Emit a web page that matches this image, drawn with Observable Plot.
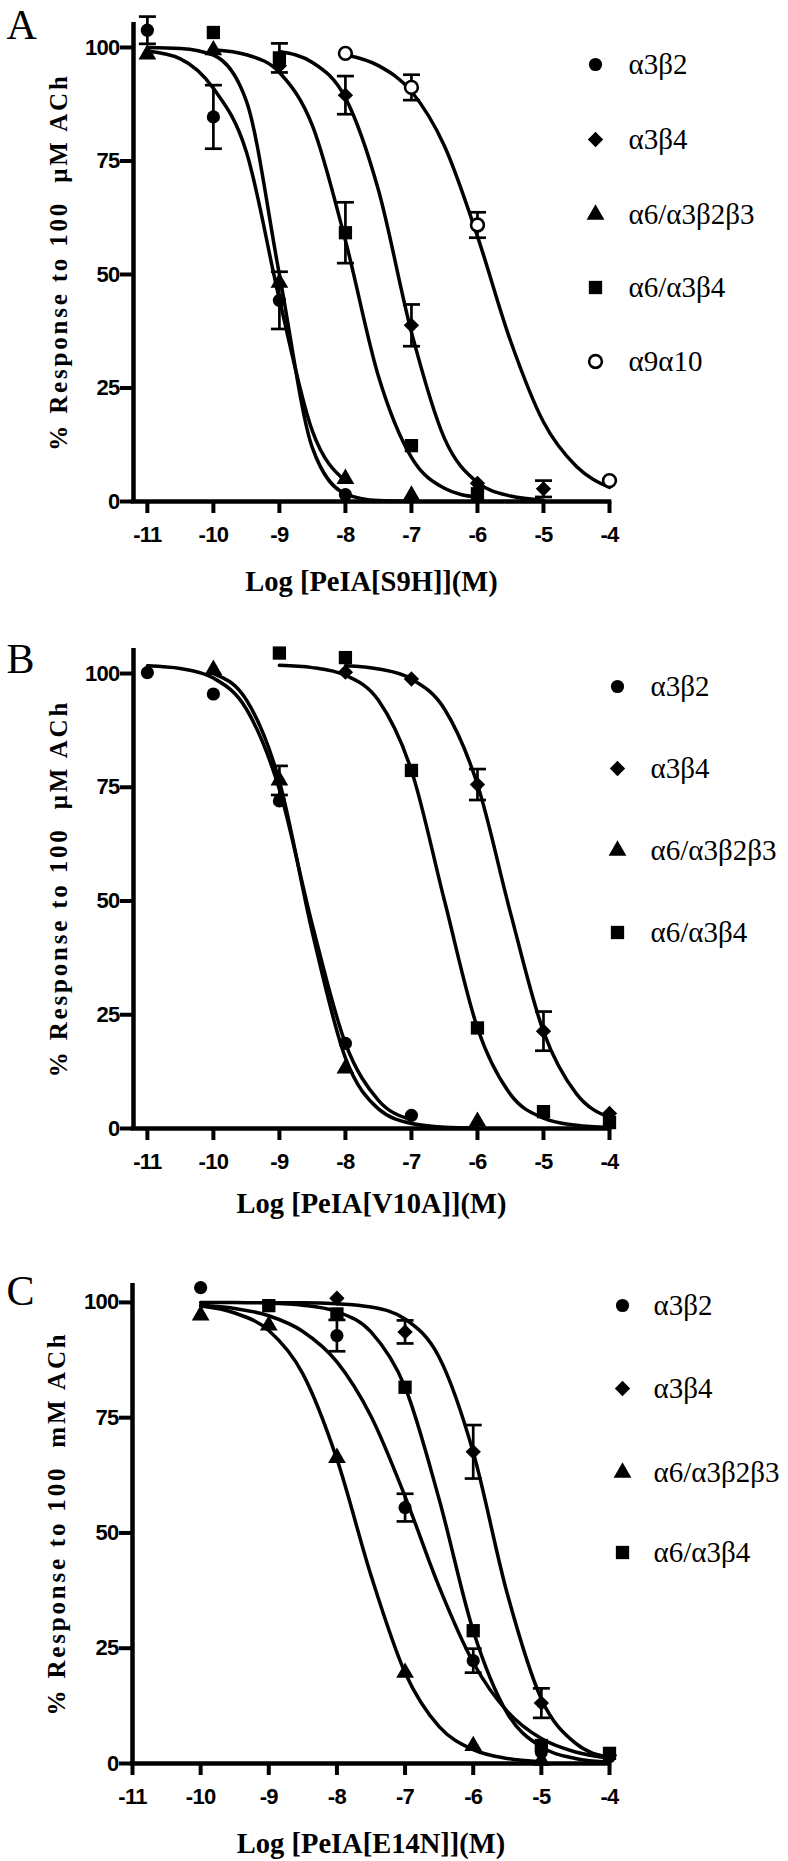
<!DOCTYPE html>
<html><head><meta charset="utf-8">
<script src="https://cdn.jsdelivr.net/npm/d3@7"></script>
<script src="https://cdn.jsdelivr.net/npm/@observablehq/plot@0.6"></script>
<style>
body{margin:0;background:#fff;}
#fig{position:relative;width:788px;height:1861px;background:#fff;}
#fig > div{position:absolute;left:0;}
</style></head><body><div id="fig"></div>
<script>
// ---------- labels & ticks ----------
const seriesLabels = ["α3β2", "α3β4", "α6/α3β2β3", "α6/α3β4", "α9α10"];
const xTicks = [-11, -10, -9, -8, -7, -6, -5, -4];
const yTicks = [0, 25, 50, 75, 100];
const panelLetters = ["A", "B", "C"];
const xLabels = ["Log [PeIA[S9H]](M)", "Log [PeIA[V10A]](M)", "Log [PeIA[E14N]](M)"];
const yLabels = ["% Response to 100  μM ACh", "% Response to 100  μM ACh", "% Response to 100  mM ACh"];

// ---------- Panel A : points [log M, % response, SEM] ----------
const A_a3b2 = [[-11,103.8,3],[-10,84.7,7],[-9,44.3,6.3],[-8,1.5,0]];
const A_a3b4 = [[-9,96,0],[-8,89.5,4.2],[-7,38.8,4.6],[-6,4,0],[-5,2.8,1.8]];
const A_a6a3b2b3 = [[-11,98.5,0],[-10,99.4,0],[-9,48.2,0],[-8,5,0],[-7,1.3,0]];
const A_a6a3b4 = [[-10,103.3,0],[-9,97.7,3.2],[-8,59.2,6.7],[-7,12.3,0],[-6,1.7,0]];
const A_a9a10 = [[-8,98.7,0],[-7,91.2,2.8],[-6,60.9,2.8],[-4,4.6,0]];
// Panel A : fitted curves [log M, %]
const A_a3b2_fit = [[-11,99.2],[-10.5,97.5],[-10,91.0],[-9.5,77.0],[-9,44.5],[-8.5,15.5],[-8,4.5]];
const A_a3b4_fit = [[-9,99.1],[-8.5,96.7],[-8,88.9],[-7.5,68.6],[-7,37.3],[-6.5,13.9],[-6,4.2],[-5.5,1.2],[-5,0.3]];
const A_a6a3b2b3_fit = [[-11,100.0],[-10.5,99.8],[-10,98.3],[-9.5,88.2],[-9,50.0],[-8.5,11.8],[-8,1.7],[-7.5,0.2],[-7,0.0]];
const A_a6a3b4_fit = [[-10,99.5],[-9.5,98.4],[-9,94.5],[-8.5,82.8],[-8,57.5],[-7.5,27.6],[-7,9.7],[-6.5,2.9],[-6,0.9]];
const A_a9a10_fit = [[-8,98.4],[-7.5,96.0],[-7,90.3],[-6.5,78.3],[-6,58.4],[-5.5,35.4],[-5,17.5],[-4.5,7.7],[-4,3.1]];

// ---------- Panel B ----------
const B_a3b2 = [[-11,100.2,0],[-10,95.5,0],[-9,72,0],[-8,18.7,0],[-7,2.9,0]];
const B_a3b4 = [[-8,100.3,0],[-7,98.8,0],[-6,75.6,3.4],[-5,21.4,4.3],[-4,3.3,0]];
const B_a6a3b2b3 = [[-10,100.8,0],[-9,76.5,3.2],[-8,13.2,0],[-6,1.5,0]];
const B_a6a3b4 = [[-9,104.5,0],[-8,103.5,0],[-7,78.7,0],[-6,22.1,0],[-5,3.7,0],[-4,1.3,0]];
const B_a3b2_fit = [[-11,101.7],[-10.5,101.1],[-10,99.0],[-9.5,92.2],[-9,74.5],[-8.5,44.7],[-8,18.7],[-7.5,6.2],[-7,1.9]];
const B_a3b4_fit = [[-8,101.7],[-7.5,101.0],[-7,98.8],[-6.5,92.2],[-6,75.6],[-5.5,47.4],[-5,21.3],[-4.5,7.6],[-4,2.4]];
const B_a6a3b2b3_fit = [[-10,100.0],[-9.5,94.2],[-9,76.3],[-8.5,43.0],[-8,15.5],[-7.5,4.3],[-7,1.1],[-6.5,0.3],[-6,0.1]];
const B_a6a3b4_fit = [[-9,101.8],[-8.5,101.3],[-8,99.6],[-7.5,94.1],[-7,78.7],[-6.5,50.1],[-6,22.1],[-5.5,7.5],[-5,2.3],[-4.5,0.7],[-4,0.2]];

// ---------- Panel C ----------
const C_a3b2 = [[-10,103.2,0],[-8,92.8,3.4],[-7,55.5,3],[-6,22.3,2.6],[-5,2.5,0],[-4,1.5,0]];
const C_a3b4 = [[-8,100.9,0],[-7,93.6,2.5],[-6,67.6,5.8],[-5,13.1,3.2],[-4,1.8,0]];
const C_a6a3b2b3 = [[-10,97.2,0],[-9,95,0],[-8,66.3,0],[-7,19.7,0],[-6,3.8,0],[-5,0.6,0]];
const C_a6a3b4 = [[-9,99.3,0],[-8,97.5,0],[-7,81.6,0],[-6,28.8,0],[-5,3.9,0],[-4,2.2,0]];
const C_a3b2_fit = [[-10,99.4],[-9.5,98.7],[-9,97.1],[-8.5,93.7],[-8,87.1],[-7.5,75.3],[-7,57.9],[-6.5,38.3],[-6,21.9],[-5.5,11.3],[-5,5.4],[-4.5,2.5],[-4,1.2]];
const C_a3b4_fit = [[-10,100.0],[-9.5,100.0],[-9,99.9],[-8.5,99.9],[-8,99.7],[-7.5,99.0],[-7,96.4],[-6.5,88.1],[-6,67.5],[-5.5,36.8],[-5,14.0],[-4.5,4.4],[-4,1.3]];
const C_a6a3b2b3_fit = [[-10,99.2],[-9.5,97.7],[-9,93.9],[-8.5,84.5],[-8,66.0],[-7.5,40.8],[-7,19.7],[-6.5,8.0],[-6,3.0],[-5.5,1.1],[-5,0.4]];
const C_a6a3b4_fit = [[-9,99.8],[-8.5,99.4],[-8,98.0],[-7.5,93.6],[-7,81.6],[-6.5,57.3],[-6,28.8],[-5.5,10.9],[-5,3.6],[-4.5,1.1],[-4,0.3]];

// ---------- styling ----------
const symbolStyle = [
  {symbol: "circle", r: 6.6, fill: "black"},
  {symbol: "diamond2", r: 6.9, fill: "black"},
  {symbol: "triangle", r: 6.6, fill: "black"},
  {symbol: "square", r: 7.5, fill: "black"},
  {symbol: "circle", r: 6.4, fill: "white", stroke: "black", strokeWidth: 2.6}
];
const capSymbol = {draw(ctx, size) { const r = Math.sqrt(size / Math.PI); ctx.moveTo(-r, 0); ctx.lineTo(r, 0); }};
const SANS = "Liberation Sans, Arial, sans-serif";
const SERIF = "Liberation Serif, Times New Roman, serif";
const W = 788;

function panel(cfg) {
  const {idx, series, fits, xDomain, yDomain, ml, mt, mb, height, legendMarkX, legendTextX, legendRows, letterDy, xLabelDy, yLabelX} = cfg;
  const mr = W - 609;
  const marks = [];
  series.forEach(pts => {
    const eb = pts.filter(d => d[2] > 0);
    marks.push(Plot.ruleX(eb, {x: d => d[0], y1: d => d[1] - d[2], y2: d => d[1] + d[2], stroke: "black", strokeWidth: 2.7}));
    marks.push(Plot.dot(eb, {x: d => d[0], y: d => d[1] + d[2], symbol: capSymbol, r: 8.5, fill: "none", stroke: "black", strokeWidth: 2.7}));
    marks.push(Plot.dot(eb, {x: d => d[0], y: d => d[1] - d[2], symbol: capSymbol, r: 8.5, fill: "none", stroke: "black", strokeWidth: 2.7}));
  });
  fits.forEach(f => marks.push(Plot.line(f, {x: d => d[0], y: d => d[1], curve: "monotone-x", stroke: "black", strokeWidth: 3.5})));
  series.forEach((pts, i) => marks.push(Plot.dot(pts, {x: d => d[0], y: d => d[1], ...symbolStyle[i]})));
  marks.push(Plot.ruleX([xDomain[0]], {stroke: "black", strokeWidth: 4.5}));
  marks.push(Plot.ruleY([0], {stroke: "black", strokeWidth: 4.5, strokeLinecap: "square"}));
  marks.push(Plot.axisX({ticks: xTicks, tickFormat: d => String(d), tickSize: 12, tickPadding: 13, strokeWidth: 4, label: null,
    fontFamily: SANS, fontWeight: "bold", fontSize: 22}));
  marks.push(Plot.axisY({ticks: yTicks, tickFormat: d => String(d), tickSize: 13, tickPadding: 1, strokeWidth: 4, label: null,
    fontFamily: SANS, fontWeight: "bold", fontSize: 22}));
  marks.push(Plot.text([yLabels[idx]], {frameAnchor: "left", dx: yLabelX - ml, rotate: -90, text: d => d,
    fontFamily: SERIF, fontWeight: "bold", fontSize: 25, lineAnchor: "middle", textAnchor: "middle"}));
  marks.push(Plot.text([xLabels[idx]], {frameAnchor: "bottom", dy: xLabelDy, text: d => d,
    fontFamily: SERIF, fontWeight: "bold", fontSize: 28.5, lineAnchor: "middle"}));
  marks.push(Plot.text([panelLetters[idx]], {frameAnchor: "top-left", dx: 6 - ml, dy: letterDy, text: d => d,
    fontFamily: SERIF, fontSize: 42, textAnchor: "start", lineAnchor: "top"}));
  series.forEach((pts, i) => {
    marks.push(Plot.dot([seriesLabels[i]], {frameAnchor: "top-left", dx: legendMarkX - ml, dy: legendRows[i] - mt, ...symbolStyle[i]}));
    marks.push(Plot.text([seriesLabels[i]], {frameAnchor: "top-left", dx: legendTextX - ml, dy: legendRows[i] - mt, text: d => d,
      fontFamily: SERIF, fontSize: 29, textAnchor: "start", lineAnchor: "middle"}));
  });
  const svg = Plot.plot({
    width: W, height, marginLeft: ml, marginRight: mr, marginTop: mt, marginBottom: mb,
    x: {domain: xDomain}, y: {domain: yDomain},
    style: {background: "white", color: "black", overflow: "visible"},
    marks
  });
  const s = d3.select(svg);
  s.selectAll('g[aria-label$="tick label"]').style("font-family", SANS).style("font-weight", "bold").style("font-size", "22px");
  s.selectAll('g[aria-label$="tick label"] text').style("letter-spacing", "-0.7px");
  s.selectAll("text").filter(function() { return this.textContent === yLabels[idx]; }).style("letter-spacing", "2.8px");
  return svg;
}

const fig = document.getElementById("fig");
const configs = [
  {idx: 0, top: 0, height: 620, ml: 133, mt: 22, mb: 119, xDomain: [-11.21, -4], yDomain: [0, 105.5],
   series: [A_a3b2, A_a3b4, A_a6a3b2b3, A_a6a3b4, A_a9a10],
   fits: [A_a3b2_fit, A_a3b4_fit, A_a6a3b2b3_fit, A_a6a3b4_fit, A_a9a10_fit],
   legendMarkX: 595, legendTextX: 628, legendRows: [64, 139, 214, 287, 361], letterDy: -13.5, xLabelDy: 80, yLabelX: 58},
  {idx: 1, top: 620, height: 620, ml: 133, mt: 28, mb: 112, xDomain: [-11.21, -4], yDomain: [0, 105.5],
   series: [B_a3b2, B_a3b4, B_a6a3b2b3, B_a6a3b4],
   fits: [B_a3b2_fit, B_a3b4_fit, B_a6a3b2b3_fit, B_a6a3b4_fit],
   legendMarkX: 617, legendTextX: 650, legendRows: [66, 148, 230, 312], letterDy: -5, xLabelDy: 75, yLabelX: 58},
  {idx: 2, top: 1240, height: 621, ml: 132, mt: 43, mb: 98, xDomain: [-11, -4], yDomain: [0, 104.1],
   series: [C_a3b2, C_a3b4, C_a6a3b2b3, C_a6a3b4],
   fits: [C_a3b2_fit, C_a3b4_fit, C_a6a3b2b3_fit, C_a6a3b4_fit],
   legendMarkX: 622, legendTextX: 653, legendRows: [65, 148, 232, 312], letterDy: -8, xLabelDy: 80, yLabelX: 56}
];
configs.forEach(cfg => {
  const holder = document.createElement("div");
  holder.style.top = cfg.top + "px";
  holder.appendChild(panel(cfg));
  fig.appendChild(holder);
});
</script>
</body></html>
